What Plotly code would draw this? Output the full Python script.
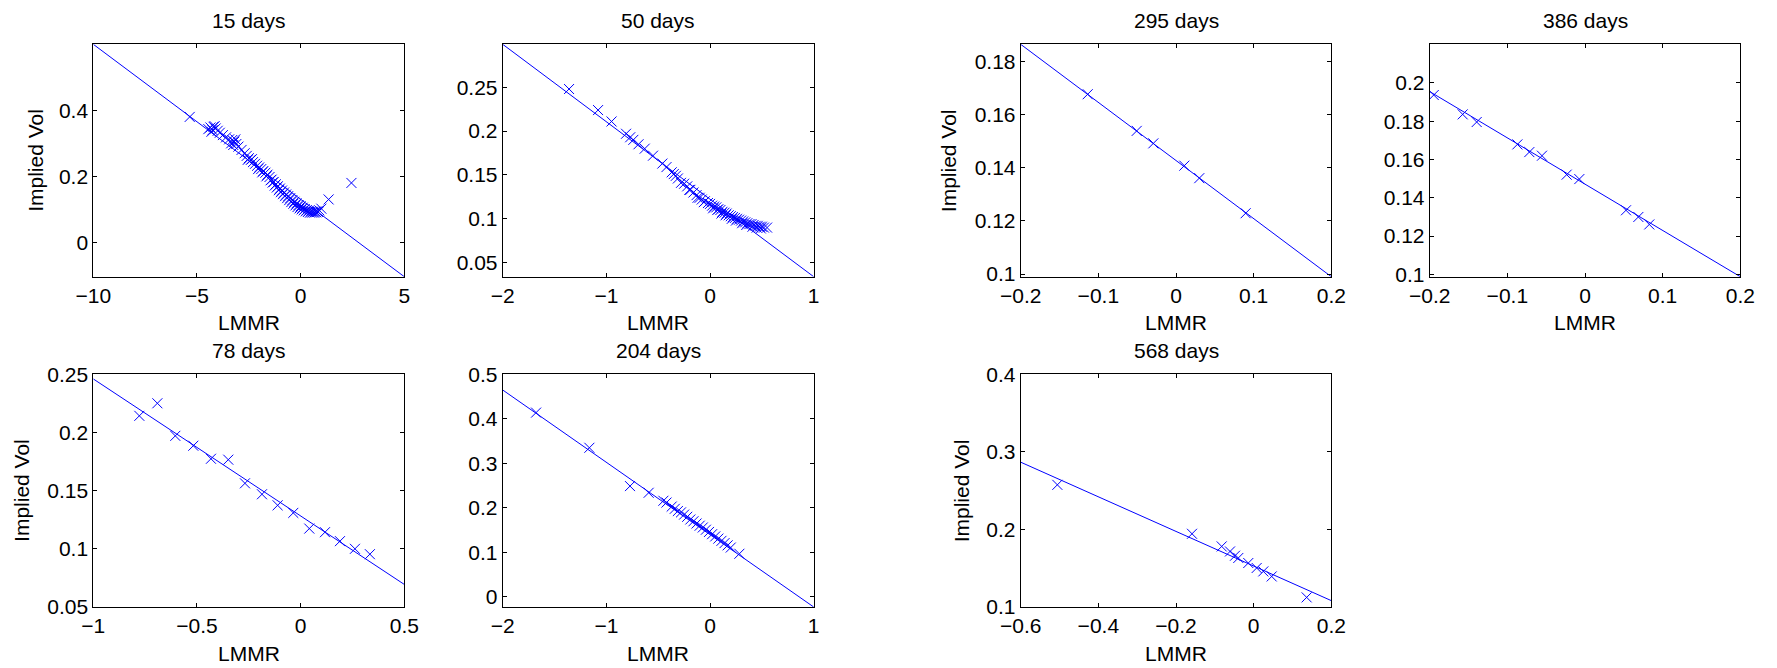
import plotly.graph_objects as go

W, H = 1777, 668

titles = ["15 days", "50 days", "295 days", "386 days", "78 days", "204 days", "568 days"]

# ---- data: LMMR (x) and implied vol (y) for each maturity ----
x15 = [-5.35, -4.45, -4.35, -4.25, -4.2, -4.1, -4.0, -3.9, -3.75, -3.6, -3.45, -3.35, -3.3, -3.2,
       -3.1, -3.0, -2.85, -2.7, -2.6, -2.5, -2.4, -2.3, -2.2, -2.1, -2.0, -1.9, -1.8, -1.7, -1.6,
       -1.5, -1.4, -1.3, -1.2, -1.1, -1.0, -0.9, -0.8, -0.7, -0.6, -0.5, -0.4, -0.3, -0.2, -0.1,
       0.0, 0.1, 0.2, 0.3, 0.4, 0.5, 0.6, 0.7, 0.8, 0.9, 1.0, 1.35, 2.45,
       -4.3, -4.15, -3.25, -3.15, -2.55, -2.35, -2.05, -1.85, -1.65, -1.45, -1.35, -1.25, -1.15,
       -1.05, -0.95, -0.85, -0.75, -0.65, -0.55, -0.45, -0.35, -0.25, -0.15, -0.05, 0.05, 0.15,
       0.25, 0.35, 0.45, 0.55, 0.65, 0.75, 0.85]
y15 = [0.380, 0.343, 0.348, 0.340, 0.350, 0.345, 0.338, 0.332, 0.325, 0.318, 0.312, 0.300, 0.310, 0.305,
       0.298, 0.290, 0.280, 0.270, 0.262, 0.255, 0.250, 0.243, 0.238, 0.232, 0.227, 0.222, 0.216, 0.211, 0.205,
       0.198, 0.190, 0.183, 0.176, 0.170, 0.163, 0.157, 0.151, 0.145, 0.140, 0.134, 0.128, 0.123, 0.118, 0.113,
       0.109, 0.105, 0.101, 0.098, 0.096, 0.094, 0.093, 0.093, 0.094, 0.097, 0.102, 0.130, 0.180,
       0.335, 0.352, 0.295, 0.312, 0.250, 0.252, 0.222, 0.212, 0.200, 0.188, 0.181, 0.172, 0.166,
       0.158, 0.152, 0.146, 0.140, 0.134, 0.128, 0.122, 0.117, 0.112, 0.107, 0.103, 0.100, 0.097,
       0.094, 0.092, 0.090, 0.090, 0.090, 0.091, 0.092]

x50 = [-1.36, -1.08, -0.95, -0.81, -0.77, -0.74, -0.69, -0.63, -0.55, -0.46, -0.42, -0.37, -0.35, -0.33,
       -0.31, -0.25, -0.22, -0.19, -0.16, -0.13, -0.10, -0.08, -0.05, -0.02, 0.0, 0.02, 0.04, 0.06, 0.08,
       0.10, 0.12, 0.14, 0.16, 0.18, 0.20, 0.22, 0.24, 0.26, 0.28, 0.30, 0.32, 0.34, 0.36, 0.38, 0.40,
       0.42, 0.44, 0.46, 0.48, 0.50, 0.52, 0.55,
       -0.28, -0.20, -0.12, -0.06, 0.03, 0.07, 0.11, 0.15, 0.21, 0.25, 0.31, 0.35, 0.41, 0.45, 0.49]
y50 = [0.248, 0.224, 0.211, 0.197, 0.193, 0.190, 0.185, 0.180, 0.172, 0.163, 0.159, 0.153, 0.151, 0.149,
       0.146, 0.140, 0.137, 0.133, 0.130, 0.127, 0.124, 0.122, 0.120, 0.118, 0.117, 0.115, 0.114, 0.113, 0.111,
       0.110, 0.108, 0.107, 0.106, 0.104, 0.103, 0.102, 0.101, 0.100, 0.099, 0.098, 0.097, 0.096, 0.095, 0.094, 0.094,
       0.093, 0.092, 0.092, 0.091, 0.091, 0.090, 0.090,
       0.141, 0.133, 0.124, 0.119, 0.112, 0.110, 0.106, 0.104, 0.100, 0.098, 0.095, 0.093, 0.091, 0.090, 0.089]

x295 = [-0.1137, -0.0506, -0.0292, 0.0107, 0.0300, 0.0897]
y295 = [0.1677, 0.1539, 0.1492, 0.1408, 0.1361, 0.1229]

x386 = [-0.1948, -0.1575, -0.1395, -0.0871, -0.0717, -0.0554, -0.0236, -0.0073, 0.0528, 0.0687, 0.0828]
y386 = [0.1937, 0.1836, 0.1796, 0.1679, 0.1639, 0.1620, 0.1521, 0.1498, 0.1335, 0.1300, 0.1261]

x78 = [-0.778, -0.691, -0.6045, -0.5177, -0.4325, -0.349, -0.2685, -0.1865, -0.111, -0.0354, 0.0418,
       0.1174, 0.1897, 0.262, 0.334]
y78 = [0.2143, 0.2251, 0.1971, 0.1886, 0.1774, 0.1766, 0.1563, 0.1469, 0.1374, 0.1309, 0.1174,
       0.1143, 0.1066, 0.1000, 0.0954]

x204 = [-1.678, -1.164, -0.772, -0.592, -0.450, -0.42, -0.37, -0.34, -0.31, -0.28, -0.25, -0.22, -0.19,
        -0.16, -0.13, -0.10, -0.07, -0.04, -0.01, 0.02, 0.05, 0.08, 0.11, 0.14, 0.17, 0.20, 0.283]
y204 = [0.414, 0.335, 0.249, 0.234, 0.216, 0.212, 0.203, 0.198, 0.193, 0.190, 0.185, 0.180, 0.174,
        0.170, 0.165, 0.160, 0.156, 0.151, 0.146, 0.141, 0.136, 0.131, 0.126, 0.121, 0.116, 0.111, 0.097]

x568 = [-0.5056, -0.1588, -0.0823, -0.0609, -0.0480, -0.0395, -0.0138, 0.0078, 0.0249, 0.0465, 0.1365]
y568 = [0.2575, 0.1944, 0.1781, 0.1716, 0.1661, 0.1632, 0.1567, 0.1503, 0.1459, 0.1394, 0.1124]

# fitted lines: endpoints (x_start, x_end) and (y_start, y_end)
fit_x = [(-10, 5), (-2, 1), (-0.2, 0.2), (-0.2, 0.2), (-1, 0.5), (-2, 1), (-0.6, 0.2)]
fit_y = [(0.600, -0.104), (0.299, 0.034), (0.1865, 0.099), (0.1955, 0.0988),
         (0.246, 0.0694), (0.4648, -0.0225), (0.2867, 0.1082)]

# axis limits and ticks
x_ranges = [(-10, 5), (-2, 1), (-0.2, 0.2), (-0.2, 0.2), (-1, 0.5), (-2, 1), (-0.6, 0.2)]
y_ranges = [(-0.104, 0.6), (0.034, 0.299), (0.099, 0.1865), (0.0988, 0.2202),
            (0.05, 0.25), (-0.0225, 0.5), (0.1, 0.4)]
x_ticks = [[-10, -5, 0, 5], [-2, -1, 0, 1], [-0.2, -0.1, 0, 0.1, 0.2], [-0.2, -0.1, 0, 0.1, 0.2],
           [-1, -0.5, 0, 0.5], [-2, -1, 0, 1], [-0.6, -0.4, -0.2, 0, 0.2]]
y_ticks = [[0, 0.2, 0.4], [0.05, 0.1, 0.15, 0.2, 0.25], [0.1, 0.12, 0.14, 0.16, 0.18],
           [0.1, 0.12, 0.14, 0.16, 0.18, 0.2], [0.05, 0.1, 0.15, 0.2, 0.25],
           [0, 0.1, 0.2, 0.3, 0.4, 0.5], [0.1, 0.2, 0.3, 0.4]]
has_ylabel = [True, False, True, False, True, False, True]

xs = [x15, x50, x295, x386, x78, x204, x568]
ys = [y15, y50, y295, y386, y78, y204, y568]

# ---- layout geometry (pixels) ----
col_px = [(93.3, 404.3), (502.7, 813.7), (1020.7, 1331.3), (1429.7, 1740.3)]
row_px = [(44.3, 276.7), (374.3, 607.0)]
pos = [(0, 0), (1, 0), (2, 0), (3, 0), (0, 1), (1, 1), (2, 1)]
ylab_off = [58, 0, 72, 0, 72, 0, 59]

FONT = "Liberation Sans, Arial, Helvetica, sans-serif"
FS = 21
BLUE = "#0000ff"

fig = go.Figure()
layout = dict(template="none", width=W, height=H, margin=dict(l=0, r=0, t=0, b=0, pad=0),
              autosize=False,
              paper_bgcolor="white", plot_bgcolor="white", showlegend=False,
              font=dict(family=FONT, size=FS, color="black"))
annotations = []

for i in range(7):
    c, r = pos[i]
    x0p, x1p = col_px[c]
    y0p, y1p = row_px[r]
    n = "" if i == 0 else str(i + 1)
    xa, ya = "x" + n, "y" + n
    fig.add_trace(go.Scatter(x=list(fit_x[i]), y=list(fit_y[i]), mode="lines",
                             line=dict(color=BLUE, width=1), xaxis=xa, yaxis=ya,
                             cliponaxis=True, hoverinfo="skip"))
    fig.add_trace(go.Scatter(x=xs[i], y=ys[i], mode="markers",
                             marker=dict(symbol="x-thin", size=10, color=BLUE,
                                         line=dict(width=1, color=BLUE)),
                             xaxis=xa, yaxis=ya))
    common = dict(showgrid=False, zeroline=False, showline=True, linecolor="black",
                  linewidth=1, mirror="ticks", ticks="inside", ticklen=4, tickwidth=1,
                  tickcolor="black", automargin=False,
                  tickfont=dict(family=FONT, size=FS, color="black"))
    layout["xaxis" + n] = dict(domain=[x0p / W, x1p / W], range=list(x_ranges[i]),
                               tickmode="array", tickvals=x_ticks[i], anchor=ya, **common)
    layout["yaxis" + n] = dict(domain=[1 - y1p / H, 1 - y0p / H], range=list(y_ranges[i]),
                               tickmode="array", tickvals=y_ticks[i], anchor=xa, **common)
    xc = (x0p + x1p) / 2
    annotations.append(dict(text=titles[i], x=xc / W, y=1 - (y0p - 24) / H, xref="paper", yref="paper",
                            xanchor="center", yanchor="middle", showarrow=False,
                            font=dict(family=FONT, size=FS, color="black")))
    annotations.append(dict(text="LMMR", x=xc / W, y=1 - (y1p + 46) / H, xref="paper", yref="paper",
                            xanchor="center", yanchor="middle", showarrow=False,
                            font=dict(family=FONT, size=FS, color="black")))
    if has_ylabel[i]:
        annotations.append(dict(text="Implied Vol", x=(x0p - ylab_off[i]) / W, y=1 - (y0p + y1p) / 2 / H,
                                xref="paper", yref="paper", textangle=-90,
                                xanchor="center", yanchor="middle", showarrow=False,
                                font=dict(family=FONT, size=FS, color="black")))

layout["annotations"] = annotations
fig.update_layout(**layout)
fig.write_html("out.html")
